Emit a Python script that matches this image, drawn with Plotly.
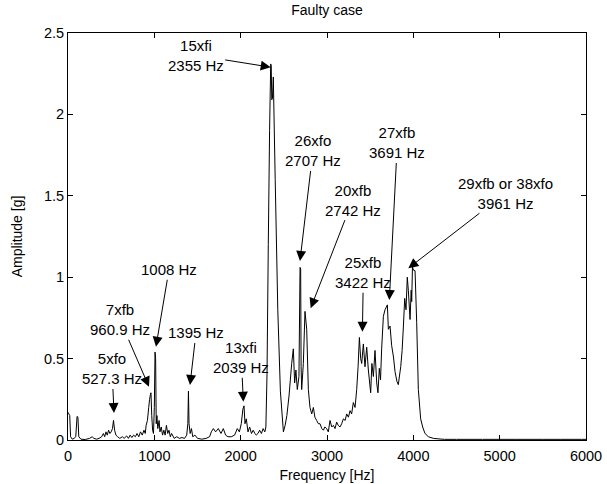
import plotly.graph_objects as go

# Spectrum (frequency in Hz, amplitude in g)
freq = [0, 10, 20, 30, 50, 70, 90, 105, 115, 125, 150, 200, 250, 280, 300, 330, 360, 390,
        410, 425, 440, 455, 470, 485, 500, 515, 527, 540, 555, 575, 600, 630, 650, 680, 700,
        720, 740, 760, 780, 800, 820, 840, 860, 880, 895, 905, 920, 935, 945, 955, 961, 970,
        980, 990, 1000, 1008, 1015, 1022, 1030, 1040, 1055, 1065, 1080, 1095, 1110, 1125,
        1140, 1155, 1170, 1185, 1200, 1230, 1260, 1290, 1320, 1350, 1375, 1388, 1395, 1402,
        1415, 1430, 1445, 1470, 1500, 1550, 1600, 1640, 1660, 1684, 1710, 1741, 1772, 1799,
        1826, 1853, 1891, 1930, 1961, 1985, 2007, 2026, 2039, 2050, 2065, 2085, 2104, 2125,
        2145, 2165, 2181, 2200, 2220, 2240, 2260, 2280, 2292, 2305, 2320, 2335, 2348, 2354,
        2360, 2368, 2378, 2400, 2430, 2460, 2495, 2515, 2535, 2560, 2591, 2610, 2625, 2640,
        2656, 2675, 2688, 2695, 2700, 2707, 2726, 2745, 2765, 2784, 2803, 2823, 2842, 2860,
        2880, 2900, 2919, 2940, 2958, 2975, 2996, 3015, 3035, 3055, 3074, 3093, 3112, 3130,
        3151, 3170, 3190, 3210, 3228, 3248, 3267, 3285, 3305, 3325, 3344, 3360, 3375, 3390,
        3402, 3421, 3440, 3460, 3479, 3506, 3520, 3537, 3556, 3576, 3590, 3606, 3620, 3633,
        3653, 3672, 3699, 3711, 3730, 3749, 3770, 3788, 3810, 3826, 3854, 3870, 3885, 3900,
        3915, 3930, 3942, 3962, 3975, 3981, 3990, 4000, 4020, 4039, 4058, 4085, 4108, 4135,
        4174, 4232, 4309, 4360, 4500, 4800, 5200, 5500, 5700, 5850, 5950, 6000]
amp = [0.17, 0.16, 0.15, 0.02, 0.005, 0.01, 0.02, 0.145, 0.14, 0.02, 0.005, 0.003, 0.01,
       0.02, 0.01, 0.005, 0.01, 0.02, 0.04, 0.02, 0.05, 0.03, 0.06, 0.04, 0.05, 0.07, 0.12,
       0.06, 0.03, 0.02, 0.01, 0.02, 0.01, 0.025, 0.01, 0.03, 0.015, 0.03, 0.02, 0.04, 0.02,
       0.05, 0.03, 0.06, 0.04, 0.09, 0.12, 0.2, 0.25, 0.28, 0.29, 0.15, 0.06, 0.04, 0.2,
       0.54, 0.5, 0.1, 0.15, 0.07, 0.12, 0.05, 0.08, 0.03, 0.06, 0.03, 0.09, 0.04, 0.06,
       0.02, 0.04, 0.01, 0.02, 0.01, 0.015, 0.01, 0.03, 0.1, 0.3, 0.1, 0.04, 0.07, 0.02,
       0.03, 0.01, 0.005, 0.01, 0.02, 0.05, 0.07, 0.05, 0.07, 0.04, 0.07, 0.03, 0.02, 0.02,
       0.03, 0.07, 0.05, 0.1, 0.19, 0.21, 0.1, 0.13, 0.05, 0.08, 0.04, 0.06, 0.04, 0.03,
       0.04, 0.06, 0.04, 0.07, 0.05, 0.08, 0.4, 1.2, 1.9, 2.31, 2.3, 2.09, 2.1, 2.23, 1.6,
       0.8, 0.3, 0.05, 0.09, 0.15, 0.27, 0.47, 0.56, 0.35, 0.43, 0.31, 0.39, 1.06, 1.05,
       0.45, 0.31, 0.47, 0.79, 0.68, 0.31, 0.2, 0.16, 0.2, 0.14, 0.12, 0.1, 0.1, 0.07, 0.06,
       0.08, 0.07, 0.05, 0.12, 0.08, 0.09, 0.07, 0.11, 0.09, 0.08, 0.1, 0.13, 0.12, 0.16,
       0.14, 0.18, 0.16, 0.23, 0.2, 0.31, 0.45, 0.63, 0.5, 0.47, 0.59, 0.45, 0.57, 0.43,
       0.29, 0.47, 0.39, 0.55, 0.35, 0.29, 0.44, 0.37, 0.56, 0.76, 0.8, 0.83, 0.68, 0.7,
       0.58, 0.51, 0.42, 0.36, 0.34, 0.45, 0.55, 0.7, 0.87, 0.8, 1.0, 0.92, 0.74, 0.92,
       0.85, 1.065, 1.044, 1.04, 0.72, 0.31, 0.13, 0.08, 0.04, 0.02, 0.01, 0.006, 0.004,
       0.004, 0.004, 0.004, 0.004, 0.004, 0.004, 0.004, 0.004]

# Annotation labels and the spectral points they mark
ann_text = ["5xfo<br>527.3 Hz", "7xfb<br>960.9 Hz", "1008 Hz", "1395 Hz",
            "13xfi<br>2039 Hz", "15xfi<br>2355 Hz", "26xfo<br>2707 Hz",
            "20xfb<br>2742 Hz", "25xfb<br>3422 Hz", "27xfb<br>3691 Hz",
            "29xfb or 38xfo<br>3961 Hz"]
ann_x = [533, 938, 1019, 1413, 2031, 2348, 2687, 2811, 3410, 3722, 3942]
ann_y = [0.166, 0.327, 0.573, 0.338, 0.235, 2.29, 1.1, 0.81, 0.665, 0.86, 1.055]

x_ticks = [0, 1000, 2000, 3000, 4000, 5000, 6000]
y_ticks = [0, 0.5, 1, 1.5, 2, 2.5]

# label offsets (pixels) of each text centre from its arrow tip
offs = [(-2, -44), (-29, -67), (13, -77), (6, -52), (-2, -44), (-75, -12),
        (13, -110), (42, -108), (1, -59), (8, -157), (97, -75)]

FONT = "Liberation Sans, Arial, sans-serif"

fig = go.Figure()
fig.add_trace(go.Scatter(x=freq, y=amp, mode="lines",
                         line=dict(color="black", width=1, simplify=False),
                         showlegend=False, hoverinfo="skip", cliponaxis=False))

for t, xv, yv, (ox, oy) in zip(ann_text, ann_x, ann_y, offs):
    fig.add_annotation(x=xv, y=yv, text=t, showarrow=True, ax=ox, ay=oy,
                       arrowhead=2, arrowsize=2, arrowwidth=1, arrowcolor="black",
                       font=dict(family=FONT, size=15, color="black"),
                       align="center", borderpad=1)

axis_common = dict(showline=True, linecolor="black", linewidth=1, mirror="ticks",
                   ticks="inside", ticklen=5, tickcolor="black", showgrid=False,
                   zeroline=False, automargin=False,
                   tickfont=dict(family=FONT, size=14.5, color="black"))

fig.update_layout(
    width=607, height=484,
    margin=dict(l=68, r=21, t=33, b=44),
    paper_bgcolor="white", plot_bgcolor="white",
    title=dict(text="Faulty case", x=0.5, xref="paper", y=0.979, yanchor="middle",
               font=dict(family=FONT, size=14, color="black")),
    xaxis=dict(range=[0, 6000], tickvals=x_ticks, ticklabelstandoff=3,
               title=dict(text="Frequency [Hz]", standoff=6,
                          font=dict(family=FONT, size=14, color="black")),
               **axis_common),
    yaxis=dict(range=[0, 2.5], tickvals=y_ticks,
               title=dict(text="Amplitude [g]", standoff=18,
                          font=dict(family=FONT, size=14, color="black")),
               **axis_common),
)

fig.write_html("out.html")
